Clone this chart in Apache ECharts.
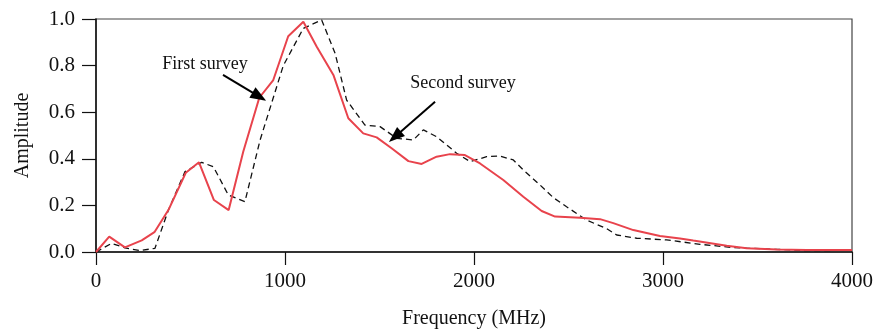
<!DOCTYPE html>
<html><head><meta charset="utf-8">
<script src="https://cdn.jsdelivr.net/npm/echarts@6/dist/echarts.min.js"></script>
<style>html,body{margin:0;padding:0;background:#fff}#c{width:874px;height:330px}</style>
</head><body><div id="c"></div>
<script>
const firstFreq = [0,70,153,242,309,383,475,545,624,702,779,864,938,1017,1097,1168,1256,1335,1414,1485,1564,1653,1723,1802,1873,1952,2032,2155,2261,2358,2429,2561,2667,2737,2843,2984,3090,3160,3337,3443,3602,3760,4000];
const firstAmp  = [0,0.066,0.02,0.05,0.085,0.18,0.34,0.385,0.223,0.18,0.43,0.662,0.738,0.926,0.988,0.881,0.76,0.574,0.509,0.492,0.445,0.39,0.378,0.409,0.42,0.416,0.38,0.309,0.237,0.176,0.152,0.147,0.141,0.124,0.094,0.069,0.058,0.049,0.027,0.016,0.011,0.009,0.009];
const secondFreq = [0,83,153,233,312,383,471,559,621,700,788,868,991,1097,1194,1265,1326,1423,1503,1591,1679,1732,1802,1908,1979,2067,2138,2208,2261,2349,2420,2490,2596,2702,2755,2861,3019,3196,3372,3549,3760,4000];
const secondAmp  = [0,0.037,0.018,0.006,0.016,0.18,0.345,0.385,0.366,0.245,0.216,0.48,0.80,0.96,0.996,0.853,0.652,0.545,0.538,0.488,0.481,0.524,0.495,0.424,0.388,0.409,0.412,0.395,0.352,0.288,0.233,0.194,0.137,0.10,0.073,0.059,0.052,0.033,0.019,0.013,0.006,0.007];
const xTicks = ['0','1000','2000','3000','4000'];
const yTicks = ['0.0','0.2','0.4','0.6','0.8','1.0'];
const labelFirst = 'First survey';
const labelSecond = 'Second survey';
const arrowFirst = [[672,0.760],[864,0.667]];
const arrowSecond = [[1794,0.645],[1582,0.495]];
const textFirstPos = [577,0.807];
const textSecondPos = [1942,0.725];

const font = 'Liberation Serif';
const zip = (a,b)=>a.map((v,i)=>[v,b[i]]);
const chart = echarts.init(document.getElementById('c'));
chart.setOption({
  animation:false,
  grid:{left:96,right:22,top:19,bottom:78,show:true,borderColor:'#444',borderWidth:1.2,containLabel:false,outerBoundsMode:'none'},
  xAxis:{type:'value',min:0,max:4000,interval:1000,
    name:'Frequency (MHz)',nameLocation:'middle',nameGap:57,
    nameTextStyle:{fontFamily:font,fontSize:20,color:'#111'},
    axisLine:{lineStyle:{color:'#111',width:1.5}},
    axisTick:{show:true,length:13,inside:false,lineStyle:{color:'#111',width:1.2}},
    axisLabel:{fontFamily:font,fontSize:21,color:'#111',margin:19,
      formatter:(v)=>xTicks[Math.round(v/1000)]},
    splitLine:{show:false}},
  yAxis:{type:'value',min:0,max:1,interval:0.2,
    name:'Amplitude',nameLocation:'middle',nameGap:63,nameRotate:90,
    nameTextStyle:{fontFamily:font,fontSize:20,color:'#111'},
    axisLine:{show:true,lineStyle:{color:'#111',width:1.5}},
    axisTick:{show:true,length:14,inside:false,lineStyle:{color:'#111',width:1.2}},
    axisLabel:{fontFamily:font,fontSize:21,color:'#111',margin:21,
      formatter:(v)=>yTicks[Math.round(v*5)]},
    splitLine:{show:false}},
  series:[
    {type:'line',data:zip(secondFreq,secondAmp),symbol:'none',z:2,
      lineStyle:{color:'#111',width:1.3,type:[6,4]}},
    {type:'line',data:zip(firstFreq,firstAmp),symbol:'none',z:3,
      lineStyle:{color:'#e8434c',width:2}},
    {type:'scatter',data:[],silent:true,
      markLine:{silent:true,symbol:['none','triangle'],symbolSize:[12,16],
        label:{show:false},
        lineStyle:{color:'#000',width:2,type:'solid'},
        data:[[{coord:arrowFirst[0]},{coord:arrowFirst[1]}],[{coord:arrowSecond[0]},{coord:arrowSecond[1]}]]},
      markPoint:{silent:true,symbol:'circle',symbolSize:0,
        label:{show:true,fontFamily:font,fontSize:18,color:'#111',position:'inside'},
        data:[{coord:textFirstPos,label:{formatter:labelFirst}},{coord:textSecondPos,label:{formatter:labelSecond}}]}}
  ]
});
</script></body></html>
